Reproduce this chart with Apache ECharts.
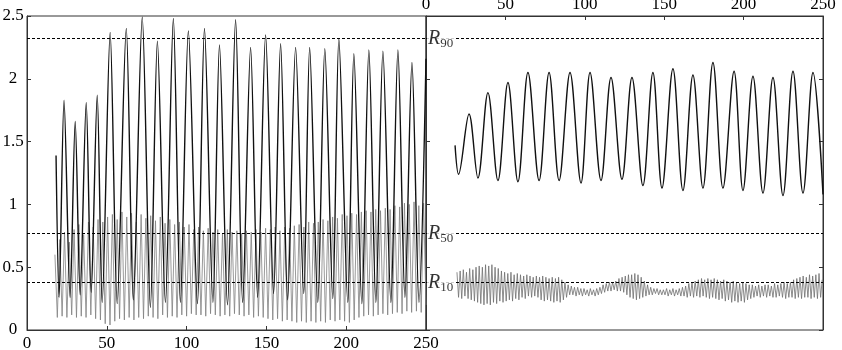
<!DOCTYPE html>
<html>
<head>
<meta charset="utf-8">
<script src="https://cdn.jsdelivr.net/npm/echarts@6/dist/echarts.min.js"></script>
<style>
html, body { margin: 0; padding: 0; background: #fff; }
#chart { width: 842px; height: 350px; }
</style>
</head>
<body>
<div id="chart"></div>
<script>
// reference levels
var levelNames = ['90', '50', '10'];
var levelValues = [2.32, 0.765, 0.375];

// left panel, thick curve: extrema
var leftThickX = [18.2, 20.1, 23.2, 27.0, 30.2, 33.3, 37.1, 40.2, 44.0, 47.1,
    52.1, 56.5, 62.2, 66.6, 72.2, 77.3, 81.7, 86.7, 91.7, 96.1,
    101.1, 106.8, 111.2, 116.5, 120.6, 125.6, 130.7, 135.1, 140.1, 144.5,
    149.5, 154.5, 158.9, 163.3, 168.3, 173.4, 177.1, 182.2, 186.6, 191.6,
    195.4, 201.0, 204.8, 209.8, 214.2, 218.6, 223.0, 228.0, 232.4, 236.8,
    241.2, 245.6, 250];
var leftThickY = [1.39, 0.26, 1.83, 0.26, 1.66, 0.28, 1.81, 0.30, 1.87, 0.22,
    2.37, 0.21, 2.40, 0.24, 2.49, 0.18, 2.30, 0.22, 2.48, 0.22,
    2.38, 0.21, 2.40, 0.22, 2.27, 0.20, 2.47, 0.22, 2.25, 0.26,
    2.35, 0.29, 2.28, 0.24, 2.25, 0.29, 2.25, 0.22, 2.24, 0.25,
    2.32, 0.22, 2.20, 0.21, 2.23, 0.22, 2.22, 0.22, 2.23, 0.26,
    2.13, 0.22, 2.16];

// left panel, thin curve: one value every 1.5 from x = 17.5
var leftThinStart = 17.5, leftThinStep = 1.5;
var leftThinY = [
    0.60, 0.10, 0.72, 0.11, 0.78, 0.10, 0.70, 0.12, 0.80, 0.10,
    0.84, 0.11, 0.76, 0.10, 0.86, 0.12, 0.82, 0.09, 0.88, 0.08,
    0.86, 0.05, 0.90, 0.04, 0.92, 0.07, 0.88, 0.09, 0.94, 0.08,
    0.90, 0.10, 0.93, 0.08, 0.86, 0.10, 0.92, 0.09, 0.89, 0.11,
    0.91, 0.10, 0.87, 0.09, 0.90, 0.12, 0.85, 0.10, 0.88, 0.11,
    0.84, 0.10, 0.86, 0.12, 0.82, 0.11, 0.84, 0.13, 0.80, 0.12,
    0.82, 0.12, 0.79, 0.11, 0.81, 0.13, 0.78, 0.12, 0.80, 0.11,
    0.77, 0.12, 0.80, 0.11, 0.78, 0.13, 0.79, 0.12, 0.77, 0.11,
    0.79, 0.12, 0.78, 0.10, 0.80, 0.11, 0.78, 0.10, 0.81, 0.09,
    0.80, 0.08, 0.82, 0.09, 0.79, 0.07, 0.82, 0.08, 0.81, 0.07,
    0.83, 0.06, 0.84, 0.07, 0.82, 0.06, 0.86, 0.07, 0.85, 0.06,
    0.86, 0.07, 0.88, 0.06, 0.87, 0.08, 0.90, 0.07, 0.89, 0.08,
    0.92, 0.07, 0.91, 0.06, 0.93, 0.08, 0.92, 0.10, 0.94, 0.11,
    0.95, 0.12, 0.94, 0.11, 0.96, 0.12, 0.95, 0.13, 0.97, 0.12,
    0.96, 0.13, 0.99, 0.14, 0.98, 0.13, 1.01, 0.15, 1.00, 0.14,
    1.02, 0.15, 0.99, 0.14, 1.01, 0.20];

// right panel, thick curve extrema
var rightThickX = [18.3, 20.5, 27.1, 32.7, 39.0, 45.3, 51.6, 57.9, 64.2, 71.2,
    77.5, 83.8, 90.7, 97.6, 103.3, 110.2, 116.5, 123.4, 129.7, 136.6,
    142.9, 148.6, 155.5, 161.8, 168.1, 174.4, 180.7, 187.0, 194.0, 199.6,
    205.9, 212.2, 218.5, 224.8, 231.1, 237.4, 243.7, 250];
var rightThickY = [1.47, 1.24, 1.72, 1.21, 1.89, 1.19, 1.97, 1.18, 2.05, 1.19,
    2.05, 1.19, 2.05, 1.17, 2.05, 1.19, 2.01, 1.20, 2.01, 1.15,
    2.05, 1.13, 2.08, 1.11, 2.03, 1.13, 2.13, 1.13, 2.06, 1.11,
    2.02, 1.09, 2.01, 1.07, 2.06, 1.09, 2.05, 1.08];

// right panel, thin curve: one value every 1 from x = 19.5
var rightThinStart = 19.5, rightThinStep = 1;
var rightThinY = [
    0.46, 0.26, 0.47, 0.25, 0.48, 0.27, 0.46, 0.25, 0.49, 0.24,
    0.48, 0.23, 0.50, 0.22, 0.51, 0.21, 0.50, 0.20, 0.52, 0.21,
    0.51, 0.20, 0.52, 0.22, 0.50, 0.21, 0.49, 0.23, 0.47, 0.22,
    0.46, 0.23, 0.45, 0.24, 0.46, 0.23, 0.44, 0.25, 0.45, 0.24,
    0.44, 0.26, 0.43, 0.25, 0.44, 0.27, 0.43, 0.26, 0.42, 0.27,
    0.43, 0.26, 0.42, 0.24, 0.43, 0.23, 0.42, 0.24, 0.41, 0.23,
    0.42, 0.22, 0.41, 0.23, 0.42, 0.22, 0.40, 0.24, 0.38, 0.26,
    0.36, 0.28, 0.35, 0.28, 0.34, 0.27, 0.34, 0.28, 0.33, 0.27,
    0.33, 0.28, 0.32, 0.27, 0.33, 0.28, 0.32, 0.27, 0.33, 0.28,
    0.34, 0.29, 0.36, 0.30, 0.37, 0.31, 0.38, 0.31, 0.38, 0.32,
    0.39, 0.31, 0.41, 0.31, 0.42, 0.30, 0.43, 0.28, 0.44, 0.26,
    0.44, 0.25, 0.45, 0.24, 0.44, 0.25, 0.42, 0.26, 0.39, 0.27,
    0.36, 0.28, 0.34, 0.28, 0.33, 0.29, 0.33, 0.28, 0.32, 0.28,
    0.32, 0.28, 0.33, 0.27, 0.32, 0.28, 0.33, 0.27, 0.32, 0.28,
    0.33, 0.27, 0.34, 0.27, 0.35, 0.26, 0.37, 0.27, 0.38, 0.26,
    0.39, 0.27, 0.40, 0.26, 0.41, 0.27, 0.40, 0.26, 0.41, 0.25,
    0.40, 0.26, 0.41, 0.25, 0.40, 0.24, 0.39, 0.25, 0.40, 0.23,
    0.39, 0.24, 0.38, 0.22, 0.39, 0.23, 0.38, 0.22, 0.37, 0.23,
    0.38, 0.22, 0.37, 0.24, 0.36, 0.25, 0.36, 0.26, 0.35, 0.27,
    0.36, 0.26, 0.35, 0.27, 0.36, 0.26, 0.36, 0.27, 0.35, 0.26,
    0.37, 0.26, 0.36, 0.27, 0.37, 0.26, 0.38, 0.25, 0.37, 0.26,
    0.38, 0.26, 0.40, 0.25, 0.41, 0.26, 0.42, 0.25, 0.43, 0.26,
    0.42, 0.26, 0.44, 0.25, 0.43, 0.26, 0.44, 0.25, 0.45, 0.26,
    0.40];

var serif = "'Liberation Serif', 'DejaVu Serif', serif";

function pairs(xs, ys) {
    var res = [];
    for (var i = 0; i < ys.length; i++) res.push([xs[i], ys[i]]);
    return res;
}
function stepped(x0, dx, ys) {
    var res = [];
    for (var i = 0; i < ys.length; i++) res.push([x0 + i * dx, ys[i]]);
    return res;
}
function tick() {
    return { show: true, inside: true, length: 4, lineStyle: { color: '#333' } };
}
function axisLine() {
    return { show: true, onZero: false, lineStyle: { color: '#333', width: 1 } };
}

var levelLines = levelValues.map(function (v) { return { yAxis: v }; });
var levelLabels = levelValues.map(function (v, i) { return { value: [0, v], name: levelNames[i] }; });

function levelMarks() {
    return {
        silent: true,
        symbol: 'none',
        animation: false,
        label: { show: false },
        lineStyle: { color: '#000', width: 1, type: [3, 2] },
        data: levelLines
    };
}

var chart = echarts.init(document.getElementById('chart'));

var option = {
    animation: false,
    backgroundColor: '#fff',
    grid: [
        { left: 27, top: 16, width: 399, height: 314, show: true, borderColor: '#333', borderWidth: 1,
          containLabel: false, outerBoundsMode: 'none' },
        { left: 426, top: 16, width: 397, height: 314, show: true, borderColor: '#333', borderWidth: 1,
          containLabel: false, outerBoundsMode: 'none' }
    ],
    xAxis: [
        {
            gridIndex: 0, type: 'value', min: 0, max: 250, interval: 50, position: 'bottom',
            axisLine: axisLine(), axisTick: tick(), splitLine: { show: false },
            axisLabel: { color: '#000', fontFamily: serif, fontSize: 17, margin: 5 }
        },
        {
            gridIndex: 1, type: 'value', min: 0, max: 250, interval: 50, position: 'top',
            axisLine: axisLine(), axisTick: tick(), splitLine: { show: false },
            axisLabel: { color: '#000', fontFamily: serif, fontSize: 17, margin: 3 }
        }
    ],
    yAxis: [
        {
            gridIndex: 0, type: 'value', min: 0, max: 2.5, interval: 0.5, position: 'left',
            axisLine: axisLine(), axisTick: tick(), splitLine: { show: false },
            axisLabel: { color: '#000', fontFamily: serif, fontSize: 17, margin: 14, align: 'center' }
        },
        {
            gridIndex: 1, type: 'value', min: 0, max: 2.5, interval: 0.5, position: 'left',
            axisLine: axisLine(), axisTick: tick(), splitLine: { show: false },
            axisLabel: { show: false }
        },
        {
            gridIndex: 1, type: 'value', min: 0, max: 2.5, interval: 0.5, position: 'right',
            axisLine: axisLine(), axisTick: tick(), splitLine: { show: false },
            axisLabel: { show: false }
        }
    ],
    series: [
        {
            name: 'left thin', type: 'line', xAxisIndex: 0, yAxisIndex: 0,
            data: stepped(leftThinStart, leftThinStep, leftThinY),
            showSymbol: false, symbol: 'none',
            lineStyle: { color: '#808080', width: 0.8 },
            markLine: levelMarks()
        },
        {
            name: 'left thick', type: 'line', xAxisIndex: 0, yAxisIndex: 0,
            data: pairs(leftThickX, leftThickY),
            smooth: 0.3, showSymbol: false, symbol: 'none',
            lineStyle: { color: '#111', width: 1.4 }
        },
        {
            name: 'right thin', type: 'line', xAxisIndex: 1, yAxisIndex: 1,
            data: stepped(rightThinStart, rightThinStep, rightThinY),
            showSymbol: false, symbol: 'none',
            lineStyle: { color: '#707070', width: 0.8 },
            markLine: levelMarks()
        },
        {
            name: 'right thick', type: 'line', xAxisIndex: 1, yAxisIndex: 1,
            data: pairs(rightThickX, rightThickY),
            smooth: 0.35, showSymbol: false, symbol: 'none',
            lineStyle: { color: '#111', width: 1.4 }
        },
        {
            name: 'levels', type: 'scatter', xAxisIndex: 1, yAxisIndex: 1,
            symbolSize: 0, silent: true, z: 10,
            data: levelLabels,
            label: {
                show: true, position: 'right', distance: 1,
                backgroundColor: '#fff', padding: [0, 1, 0, 1],
                formatter: function (p) { return '{r|R}{s|' + p.name + '}'; },
                rich: {
                    r: { fontFamily: serif, fontStyle: 'italic', fontSize: 20, color: '#000' },
                    s: { fontFamily: serif, fontSize: 13, color: '#000', padding: [9, 0, 0, 0] }
                }
            }
        }
    ]
};

chart.setOption(option);
</script>
</body>
</html>
